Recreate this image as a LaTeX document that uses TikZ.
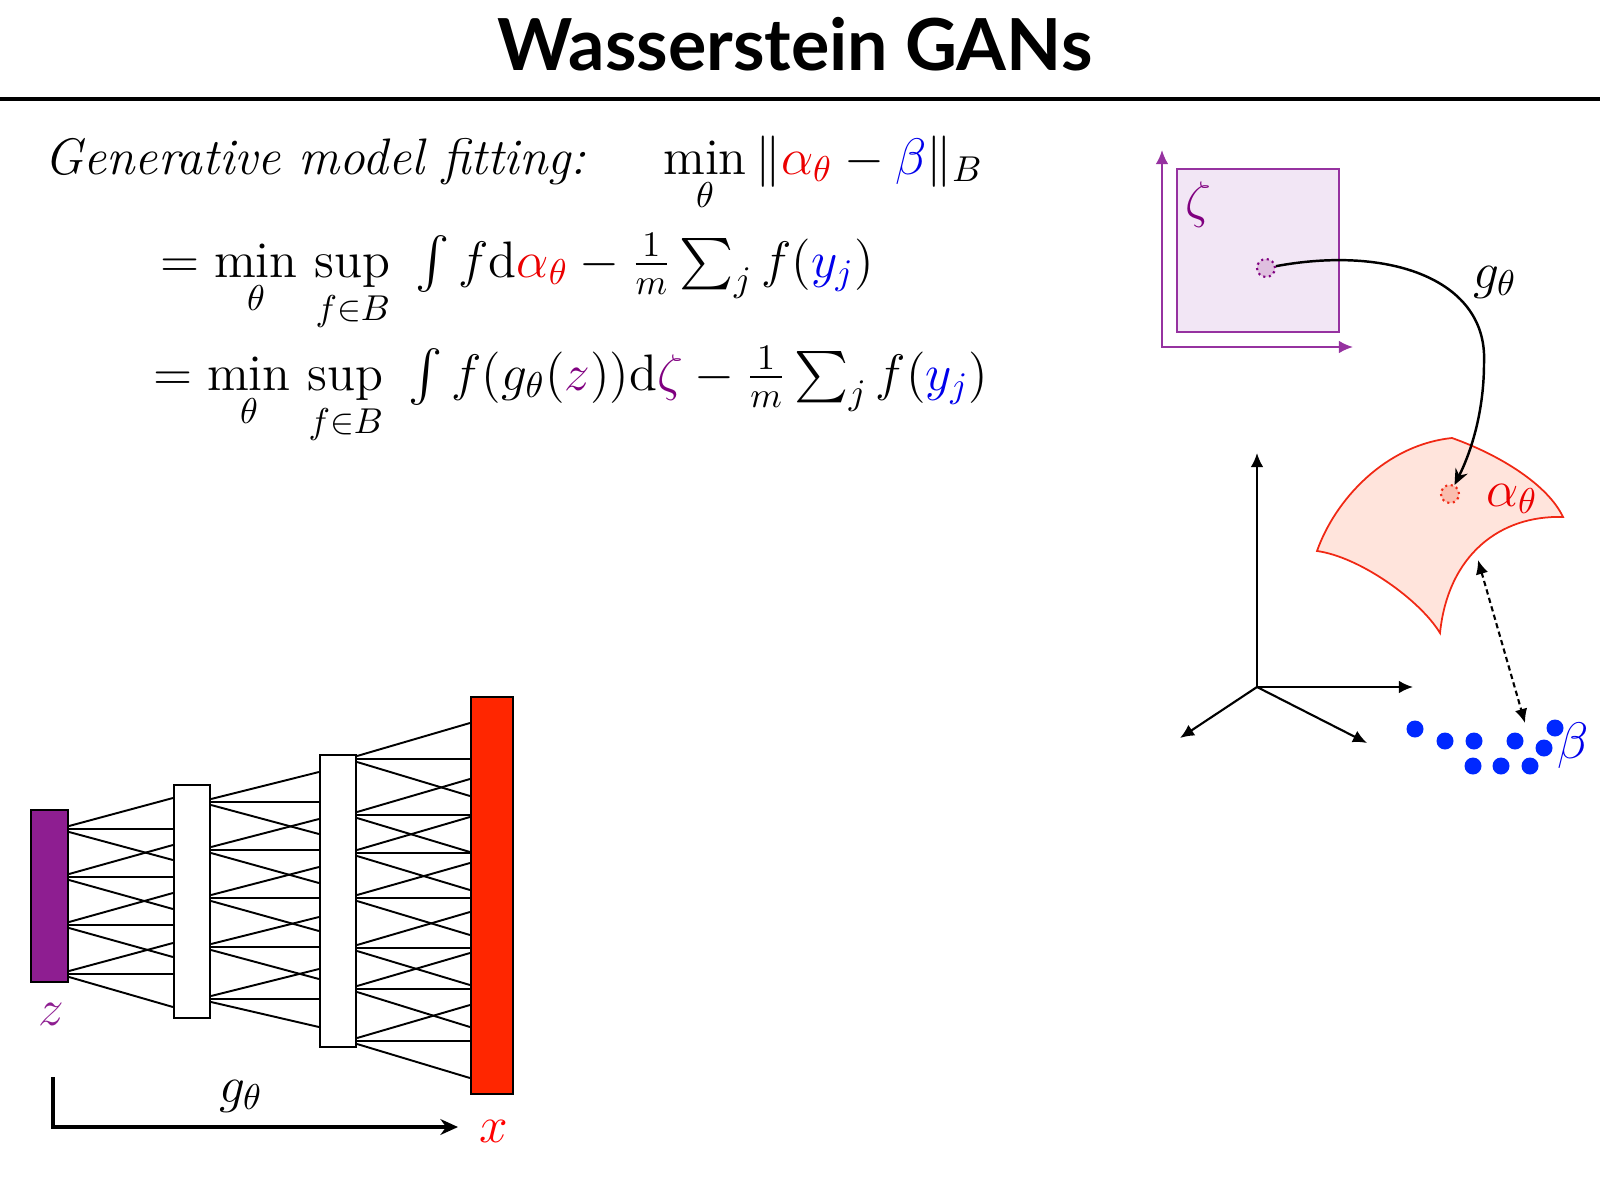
\RequirePackage{fix-cm}
\documentclass[tikz,border=0pt]{standalone}
\usepackage{amsmath,amssymb}
\usepackage{fontspec}
\newfontfamily\titlefont{Lato}
\usetikzlibrary{arrows,arrows.meta}

\definecolor{thetared}{RGB}{235,0,0}
\definecolor{datablue}{RGB}{0,0,235}
\definecolor{latent}{RGB}{128,0,128}
\definecolor{zfill}{RGB}{142,30,145}
\definecolor{xfill}{RGB}{255,38,0}
\definecolor{dotblue}{RGB}{0,40,255}
\definecolor{surf}{RGB}{255,228,220}
\definecolor{surfline}{RGB}{240,40,20}
\definecolor{spotred}{RGB}{250,190,175}
\definecolor{sqfill}{RGB}{242,230,245}
\definecolor{sqline}{RGB}{150,50,160}

\newcommand{\eqsize}{\fontsize{14.6}{17}\selectfont}

\begin{document}
\begin{tikzpicture}[x=0.01cm,y=-0.01cm]
    \tikzset{layer/.style = {shape=rectangle,draw,line width=0.6pt,inner sep=0pt,minimum width=0.36cm}}
    \tikzset{wire/.style = {line width=0.55pt}}
    \tikzset{lbl/.style = {font=\eqsize,anchor=base,inner sep=0pt}}
    \tikzset{axis/.style = {-{Latex[length=4pt,width=3.6pt]},line width=0.6pt}}
    \tikzset{sample/.style = {shape=circle,fill=dotblue,inner sep=0pt,minimum size=0.17cm}}
    \tikzset{spot/.style = {shape=circle,densely dotted,line width=0.6pt,inner sep=0pt,minimum size=0.18cm}}
    \tikzset{map/.style = {-{Stealth[length=4.5pt,width=3.8pt]},line width=0.7pt}}
    \useasboundingbox (0,0) rectangle (1600,1200);
    % title
    \node[font=\titlefont\bfseries\fontsize{20.4}{24}\selectfont,anchor=base] (title) at (795,70) {Wasserstein GANs};
    \draw[line width=1pt] (0,99) -- (1600,99);
    % formulas
    \node[lbl,anchor=base west] (fit) at (44,174) {\textit{Generative model fitting:}\hspace{1.5em}$\displaystyle\min_{\theta} \|{\color{thetared}\alpha_\theta} - {\color{datablue}\beta}\|_B$};
    \node[lbl,anchor=base west] (eq1) at (160,277) {$= \min\limits_{\theta}\,\sup\limits_{f\in B}\ \int f\mathrm{d}{\color{thetared}\alpha_\theta} - \frac{1}{m}\sum_j f({\color{datablue}y_j})$};
    \node[lbl,anchor=base west] (eq2) at (153,390) {$= \min\limits_{\theta}\,\sup\limits_{f\in B}\ \int f(g_\theta({\color{latent}z}))\mathrm{d}{\color{latent}\zeta} - \frac{1}{m}\sum_j f({\color{datablue}y_j})$};
    % latent space
    \node[draw=sqline,fill=sqfill,line width=0.5pt,minimum width=1.62cm,minimum height=1.63cm] (zbox) at (1258,250.5) {};
    \coordinate (zo) at (1162,347);
    \coordinate (zy) at (1162,150);
    \coordinate (zx) at (1353,347);
    \draw[sqline,line width=0.6pt,{Latex[length=4pt,width=3.6pt]}-{Latex[length=4pt,width=3.6pt]}] (zy) -- (zo) -- (zx);
    \node[lbl,text=latent] (zeta) at (1198,217) {$\zeta$};
    \node[spot,draw=latent,fill=latent!25] (zdot) at (1266,268) {};
    % data space
    \coordinate (o) at (1257,687);
    \coordinate (oy) at (1257,453);
    \coordinate (ox) at (1413,687);
    \coordinate (ol) at (1180,738);
    \coordinate (or) at (1367,743);
    \draw[axis] (o) -- (oy);
    \draw[axis] (o) -- (ox);
    \draw[axis] (o) -- (ol);
    \draw[axis] (o) -- (or);
    \draw[surfline,fill=surf,line width=0.5pt] (1317,551) .. controls (1335,500) and (1385,445) .. (1452,438)
        .. controls (1500,455) and (1548,485) .. (1563,517)
        .. controls (1500,515) and (1448,555) .. (1440,633)
        .. controls (1420,600) and (1360,557) .. cycle;
    \node[spot,draw=surfline,fill=spotred] (adot) at (1450,494) {};
    \node[lbl,text=thetared] (alpha) at (1512,506) {$\alpha_\theta$};
    \draw[map] (zdot) .. controls (1390,245) and (1488,280) .. (1484,363) .. controls (1484,410) and (1472,450) .. (adot);
    \node[lbl] (gmap) at (1495,288) {$g_\theta$};
    % samples
    \foreach \x/\y [count=\i] in {1415/729, 1445/741, 1474/741, 1515/741, 1555/728, 1544/748, 1473/766, 1501/766, 1530/766}
        \node[sample] (b\i) at (\x,\y) {};
    \node[lbl,text=datablue] (beta) at (1573,758) {$\beta$};
    \coordinate (dtop) at (1478,560);
    \coordinate (dbot) at (1525,723);
    \draw[{Latex[length=4pt,width=3.6pt]}-{Latex[length=4pt,width=3.6pt]},line width=0.6pt,dash pattern=on 1.5pt off 1pt] (dtop) -- (dbot);
    % layers
    \node[layer,fill=zfill,minimum height=1.72cm,minimum width=0.37cm] (z) at (49.5,896) {};
    \node[layer,fill=white,minimum height=2.33cm] (h1) at (192,901.5) {};
    \node[layer,fill=white,minimum height=2.92cm] (h2) at (338,901) {};
    \node[layer,fill=xfill,minimum height=3.97cm,minimum width=0.42cm] (x) at (492,895.5) {};
    %edges
    \foreach \s/\u/\d in {829/798/860, 877/845/909, 925/893/957, 974/943/1007}{
        \draw[wire] (z.east |- 0,\s-3) -- (h1.west |- 0,\u);
        \draw[wire] (z.east |- 0,\s) -- (h1.west |- 0,\s);
        \draw[wire] (z.east |- 0,\s+3) -- (h1.west |- 0,\d);
    }
    \foreach \s/\u/\d in {802/772/834, 850/819/883, 898/867/931, 947/917/979, 999/969/1027}{
        \draw[wire] (h1.east |- 0,\s-3) -- (h2.west |- 0,\u);
        \draw[wire] (h1.east |- 0,\s) -- (h2.west |- 0,\s);
        \draw[wire] (h1.east |- 0,\s+3) -- (h2.west |- 0,\d);
    }
    \foreach \s/\u/\d in {759/723/796, 815/779/852, 853/817/890, 898/863/935, 948/912/985, 989/953/1027, 1041/1005/1078}{
        \draw[wire] (h2.east |- 0,\s-3) -- (x.west |- 0,\u);
        \draw[wire] (h2.east |- 0,\s) -- (x.west |- 0,\s);
        \draw[wire] (h2.east |- 0,\s+3) -- (x.west |- 0,\d);
    }
    \node[lbl,text=zfill] (zlab) at (51,1025) {$z$};
    \node[lbl,text=red] (xlab) at (494,1142) {$x$};
    \coordinate (gs) at (53,1077);
    \coordinate (ge) at (458,1127);
    \draw[line width=1pt,-{Stealth[length=5pt,width=4.5pt]}] (gs) |- (ge);
    \node[lbl] (gnet) at (241,1102) {$g_\theta$};
\end{tikzpicture}
\end{document}
